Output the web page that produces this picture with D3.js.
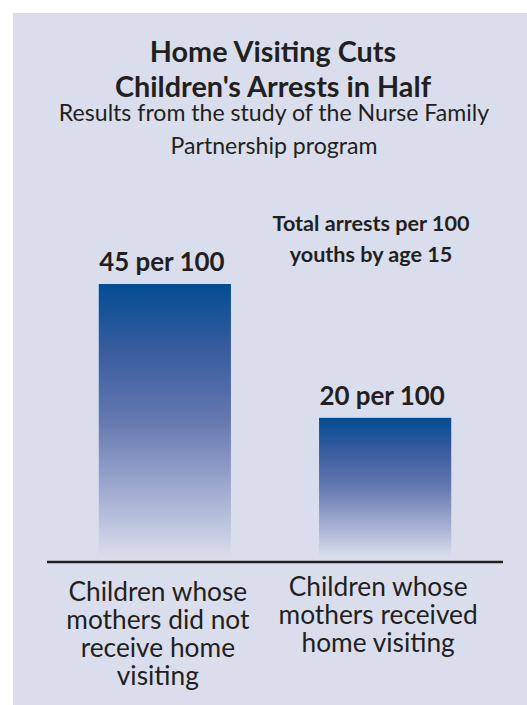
<!DOCTYPE html>
<html>
<head>
<meta charset="utf-8">
<script src="https://cdn.jsdelivr.net/npm/d3@7"></script>
<style>
  html, body { margin: 0; padding: 0; background: #ffffff; }
  svg { display: block; }
  text { font-family: Lato, "Open Sans", sans-serif; fill: #231f20; }
</style>
</head>
<body>
<svg id="chart" width="527" height="705"></svg>
<script>
// ---- data ----
const categories = [
  ["Children whose", "mothers did not", "receive home", "visiting"],
  ["Children whose", "mothers received", "home visiting"]
];
const values = [45, 20];
const valueLabels = ["45 per 100", "20 per 100"];
const titleLines = ["Home Visiting Cuts", "Children's Arrests in Half"];
const subtitleLines = ["Results from the study of the Nurse Family", "Partnership program"];
const noteLines = ["Total arrests per 100", "youths by age 15"];

// ---- drawing ----
const svg = d3.select("#chart");
const panelColor = "#dadeec";

svg.append("rect")
  .attr("x", 13).attr("y", 13)
  .attr("width", 514).attr("height", 692)
  .attr("fill", panelColor);

const defs = svg.append("defs");
const grad = defs.append("linearGradient")
  .attr("id", "barGrad")
  .attr("x1", 0).attr("y1", 0).attr("x2", 0).attr("y2", 1);
[
  [0, "#024c93"],
  [0.25, "#3a5d9f"],
  [0.5, "#6578b0"],
  [0.75, "#9eaacf"],
  [1, panelColor]
].forEach(([o, c]) => grad.append("stop").attr("offset", o).attr("stop-color", c));

const idx = values.map((_, i) => i);
const x = d3.scaleBand()
  .domain(idx)
  .range([47, 503])
  .paddingInner(0.4)
  .paddingOuter(0.235);

const y = d3.scaleLinear()
  .domain([-6, 45])
  .range([557, 284]);

const bottom = y(-6);

svg.selectAll("rect.bar")
  .data(values)
  .join("rect")
  .attr("class", "bar")
  .attr("x", (d, i) => x(i))
  .attr("y", d => y(d))
  .attr("width", x.bandwidth())
  .attr("height", d => bottom - y(d))
  .attr("fill", "url(#barGrad)");

// baseline
svg.append("line")
  .attr("x1", x.range()[0]).attr("x2", x.range()[1])
  .attr("y1", 562).attr("y2", 562)
  .attr("stroke", "#231f20")
  .attr("stroke-width", 2.6);

// value labels
svg.selectAll("text.val")
  .data(values)
  .join("text")
  .attr("class", "val")
  .attr("x", (d, i) => x(i) + x.bandwidth() / 2 - 3)
  .attr("y", d => y(d) - 13)
  .attr("text-anchor", "middle")
  .attr("font-weight", "bold")
  .attr("font-size", 25.9)
  .text((d, i) => valueLabels[i]);

// title
svg.selectAll("text.title")
  .data(titleLines)
  .join("text")
  .attr("class", "title")
  .attr("x", 273)
  .attr("y", (d, i) => 62 + i * 35)
  .attr("text-anchor", "middle")
  .attr("font-weight", "bold")
  .attr("font-size", 28.8)
  .text(d => d);

svg.selectAll("text.sub")
  .data(subtitleLines)
  .join("text")
  .attr("class", "sub")
  .attr("x", 274)
  .attr("y", (d, i) => 121 + i * 33)
  .attr("text-anchor", "middle")
  .attr("font-size", 23.1)
  .text(d => d);

svg.selectAll("text.note")
  .data(noteLines)
  .join("text")
  .attr("class", "note")
  .attr("x", 371)
  .attr("y", (d, i) => 231 + i * 31)
  .attr("text-anchor", "middle")
  .attr("font-weight", "bold")
  .attr("font-size", 21.6)
  .text(d => d);

// category labels
const baseY = [601, 596];
categories.forEach((lines, i) => {
  svg.append("g")
    .selectAll("text")
    .data(lines)
    .join("text")
    .attr("x", x(i) + x.bandwidth() / 2 - 7)
    .attr("y", (d, j) => baseY[i] + j * 28)
    .attr("text-anchor", "middle")
    .attr("font-size", 26.3)
    .text(d => d);
});
</script>
</body>
</html>
